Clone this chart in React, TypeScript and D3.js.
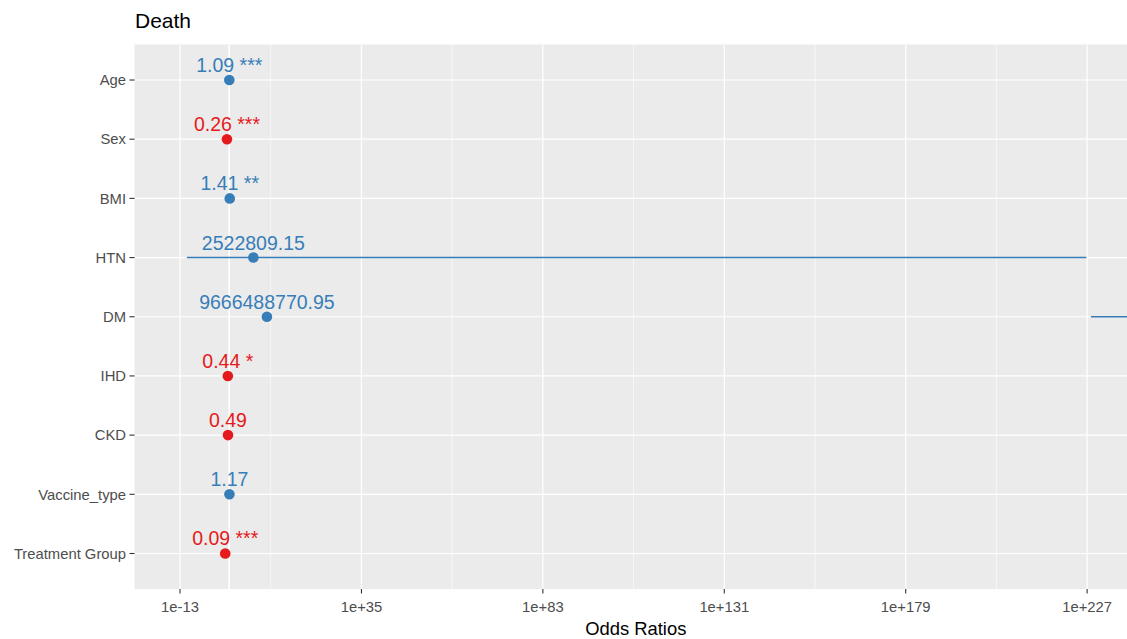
import React from "react";
import * as d3 from "d3";

// Model terms and odds ratios (logistic regression, outcome: death)
const terms = ["Age", "Sex", "BMI", "HTN", "DM", "IHD", "CKD", "Vaccine_type", "Treatment Group"];
const estimates = [1.09, 0.26, 1.41, 2522809.15, 9666488770.95, 0.44, 0.49, 1.17, 0.09];
const estimateLabels = ["1.09", "0.26", "1.41", "2522809.15", "9666488770.95", "0.44", "0.49", "1.17", "0.09"];
const stars = ["***", "***", "**", "", "", "*", "", "", "***"];
const ciLow = [1.06, 0.15, 1.12, 6.3e-12, 1e228, 0.22, 0.2, 0.8, 0.04];
const ciHigh = [1.12, 0.45, 1.78, 6.3e226, 1e240, 0.87, 1.2, 1.7, 0.2];

// Axis ticks
const majorTicks = [1e-13, 1e35, 1e83, 1e131, 1e179, 1e227];
const majorTickLabels = ["1e-13", "1e+35", "1e+83", "1e+131", "1e+179", "1e+227"];
const minorTicks = [1e11, 1e59, 1e107, 1e155, 1e203];

const W = 1127;
const H = 639;
const panel = { left: 134.5, right: 1137, top: 44.5, bottom: 589 };
const FONT = "'Liberation Sans', Arial, Helvetica, sans-serif";
const BLUE = "#377EB8";
const RED = "#E41A1C";

export default function App() {
  const x = d3
    .scaleLog()
    .domain([Math.pow(10, -25.05), Math.pow(10, 240.2)])
    .range([panel.left, panel.right]);
  const y = d3.scalePoint<string>().domain(terms).range([panel.top, panel.bottom]).padding(0.6);

  const pw = panel.right - panel.left;
  const ph = panel.bottom - panel.top;

  return (
    <svg
      width={W}
      height={H}
      style={{ position: "absolute", left: 0, top: 0, background: "#fff" }}
      fontFamily={FONT}
    >
      <defs>
        <clipPath id="panel-clip">
          <rect x={panel.left} y={panel.top} width={pw} height={ph} />
        </clipPath>
      </defs>

      <text x={135} y={28} fontSize={21} fill="#000">
        Death
      </text>

      <rect x={panel.left} y={panel.top} width={pw} height={ph} fill="#EBEBEB" />

      <g clipPath="url(#panel-clip)">
        {minorTicks.map((t, i) => (
          <line key={"mi" + i} x1={x(t)} x2={x(t)} y1={panel.top} y2={panel.bottom} stroke="#fff" strokeWidth={0.6} />
        ))}
        {majorTicks.map((t, i) => (
          <line key={"ma" + i} x1={x(t)} x2={x(t)} y1={panel.top} y2={panel.bottom} stroke="#fff" strokeWidth={1.2} />
        ))}
        {terms.map((t) => (
          <line key={"h" + t} x1={panel.left} x2={panel.right} y1={y(t)} y2={y(t)} stroke="#fff" strokeWidth={1.2} />
        ))}
        {/* reference line at OR = 1 */}
        <line x1={x(1)} x2={x(1)} y1={panel.top} y2={panel.bottom} stroke="#fff" strokeWidth={1.6} />

        {terms.map((t, i) => {
          const col = estimates[i] > 1 ? BLUE : RED;
          const cy = y(t)!;
          return (
            <g key={"m" + t}>
              <line x1={x(ciLow[i])} x2={x(ciHigh[i])} y1={cy} y2={cy} stroke={col} strokeWidth={1.4} />
              <circle cx={x(estimates[i])} cy={cy} r={5.3} fill={col} />
              <text x={x(estimates[i])} y={cy - 8} textAnchor="middle" fontSize={19.5} fill={col}>
                {estimateLabels[i]}
                {stars[i] ? " " + stars[i] : ""}
              </text>
            </g>
          );
        })}
      </g>

      {/* y axis */}
      {terms.map((t) => (
        <g key={"yl" + t}>
          <line x1={129.5} x2={panel.left} y1={y(t)} y2={y(t)} stroke="#333" strokeWidth={1.1} />
          <text x={126} y={y(t)! + 5.2} textAnchor="end" fontSize={14.8} fill="#4D4D4D">
            {t}
          </text>
        </g>
      ))}

      {/* x axis */}
      {majorTicks.map((t, i) => (
        <g key={"xl" + i}>
          <line x1={x(t)} x2={x(t)} y1={panel.bottom} y2={panel.bottom + 4.5} stroke="#333" strokeWidth={1.1} />
          <text x={x(t)} y={612} textAnchor="middle" fontSize={14.8} fill="#4D4D4D">
            {majorTickLabels[i]}
          </text>
        </g>
      ))}
      <text x={(panel.left + panel.right) / 2} y={635} textAnchor="middle" fontSize={18.4} fill="#000">
        Odds Ratios
      </text>
    </svg>
  );
}
